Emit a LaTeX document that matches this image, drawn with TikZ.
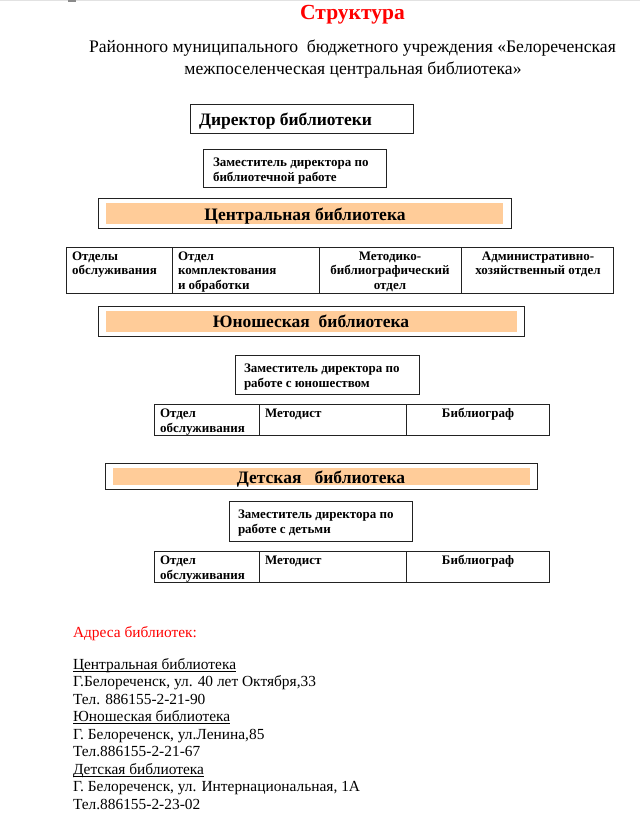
\documentclass[tikz,border=0pt]{standalone}
\usepackage{fontspec}
\setmainfont{Liberation Serif}
\definecolor{peach}{HTML}{FFCC99}
\definecolor{hred}{HTML}{FF0000}
\definecolor{topgray}{HTML}{E2E2E2}
\definecolor{markgray}{HTML}{8A8A8A}
\definecolor{boxline}{HTML}{222222}
\begin{document}
\begin{tikzpicture}[x=1bp,y=-1bp,
  box/.style={draw=boxline,line width=1bp},
  bar/.style={fill=peach,draw=none},
  t/.style={inner sep=0pt,outer sep=0pt},
  small/.style={t,font=\bfseries\fontsize{13bp}{15bp}\selectfont},
  big/.style={t,font=\bfseries\fontsize{17.5bp}{21bp}\selectfont},
  sub/.style={t,font=\fontsize{17.6bp}{21bp}\selectfont},
  addr/.style={t,font=\fontsize{15.4bp}{18bp}\selectfont}]
\useasboundingbox (0,0) rectangle (640,813);
\fill[white] (0,0) rectangle (640,813);
% top page edge
\fill[topgray] (0,0) rectangle (640,1.5);
\fill[markgray] (68,0) rectangle (76,2);
% title
\node[t,font=\bfseries\fontsize{21.5bp}{24bp}\selectfont,text=hred,anchor=base] (title) at (352.5,20) {Структура};
\node[sub,anchor=base] (sub1) at (352.5,53) {Районного муниципального \ бюджетного учреждения «Белореченская};
\node[sub,anchor=base] (sub2) at (353,75) {межпоселенческая центральная библиотека»};
% director
\draw[box] (190,104) rectangle (413,133);
\node[big,anchor=base west] (dir) at (199,125) {Директор библиотеки};
% deputy
\draw[box] (203,149) rectangle (386,187);
\node[small,anchor=base west] (dep1) at (213,166) {Заместитель директора по};
\node[small,anchor=base west] (dep2) at (213,181) {библиотечной работе};
% central library
\draw[box] (98,198) rectangle (511,228);
\fill[bar] (106,203) rectangle (503,223.5);
\node[big,anchor=base] (cen) at (305,220) {Центральная библиотека};
% central row
\draw[box] (66,247) rectangle (613,293);
\draw[box] (172,247) -- (172,293);
\draw[box] (319,247) -- (319,293);
\draw[box] (461,247) -- (461,293);
\node[small,anchor=base west] (r1a) at (72,260) {Отделы};
\node[small,anchor=base west] (r1b) at (72,274.5) {обслуживания};
\node[small,anchor=base west] (r2a) at (178,260) {Отдел};
\node[small,anchor=base west] (r2b) at (178,274.5) {комплектования};
\node[small,anchor=base west] (r2c) at (178,289) {и обработки};
\node[small,anchor=base] (r3a) at (390,260) {Методико-};
\node[small,anchor=base] (r3b) at (390,274.5) {библиографический};
\node[small,anchor=base] (r3c) at (390,289) {отдел};
\node[small,anchor=base] (r4a) at (538,260) {Административно-};
\node[small,anchor=base] (r4b) at (538,274.5) {хозяйственный отдел};
% youth library
\draw[box] (98,306) rectangle (524,336);
\fill[bar] (106,311) rectangle (517,331.5);
\node[big,anchor=base] (you) at (311,327) {Юношеская \ библиотека};
\draw[box] (235,355) rectangle (419,394);
\node[small,anchor=base west] (ydep1) at (244,372) {Заместитель директора по};
\node[small,anchor=base west] (ydep2) at (244,387) {работе с юношеством};
\draw[box] (154,404) rectangle (549,435);
\draw[box] (259,404) -- (259,435);
\draw[box] (406,404) -- (406,435);
\node[small,anchor=base west] (y1a) at (160,417) {Отдел};
\node[small,anchor=base west] (y1b) at (160,432) {обслуживания};
\node[small,anchor=base west] (y2) at (265,417) {Методист};
\node[small,anchor=base] (y3) at (478,417) {Библиограф};
% children library
\draw[box] (105,463) rectangle (537,489);
\fill[bar] (113,467.5) rectangle (530,485);
\node[big,anchor=base] (chi) at (321,483) {Детская \ \ библиотека};
\draw[box] (229,501) rectangle (412,541);
\node[small,anchor=base west] (cdep1) at (238,518) {Заместитель директора по};
\node[small,anchor=base west] (cdep2) at (238,533) {работе с детьми};
\draw[box] (154,551) rectangle (549,582);
\draw[box] (259,551) -- (259,582);
\draw[box] (406,551) -- (406,582);
\node[small,anchor=base west] (c1a) at (160,564) {Отдел};
\node[small,anchor=base west] (c1b) at (160,579) {обслуживания};
\node[small,anchor=base west] (c2) at (265,564) {Методист};
\node[small,anchor=base] (c3) at (478,564) {Библиограф};
% addresses
\node[addr,text=hred,anchor=base west] (ah) at (73,637) {Адреса библиотек:};
\node[addr,anchor=base west] (a1) at (73,669) {Центральная библиотека};
\node[addr,anchor=base west] (a2) at (73,686.5) {Г.Белореченск, ул. 40 лет Октября,33};
\node[addr,anchor=base west] (a3) at (73,704) {Тел. 886155-2-21-90};
\node[addr,anchor=base west] (a4) at (73,721.5) {Юношеская библиотека};
\node[addr,anchor=base west] (a5) at (73,739) {Г. Белореченск, ул.Ленина,85};
\node[addr,anchor=base west] (a6) at (73,756.5) {Тел.886155-2-21-67};
\node[addr,anchor=base west] (a7) at (73,774) {Детская библиотека};
\node[addr,anchor=base west] (a8) at (73,791.5) {Г. Белореченск, ул. Интернациональная, 1А};
\node[addr,anchor=base west] (a9) at (73,809) {Тел.886155-2-23-02};
\foreach \n in {a1,a4,a7}
  \draw[line width=0.8bp] ([yshift=-2bp]\n.base west) -- ([yshift=-2bp]\n.base east);
\end{tikzpicture}
\end{document}
